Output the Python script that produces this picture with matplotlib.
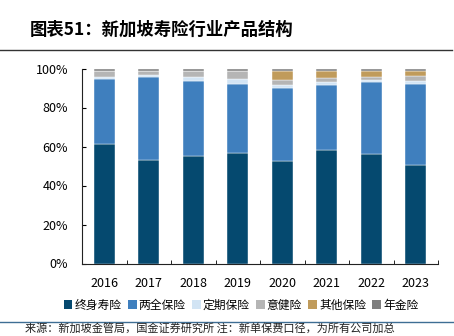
import numpy as np
import matplotlib
matplotlib.use("Agg")
import matplotlib.pyplot as plt
from matplotlib.lines import Line2D
from matplotlib.patches import Patch

plt.rcParams['font.family'] = ['Noto Sans CJK SC', 'DejaVu Sans']

years = ["2016", "2017", "2018", "2019", "2020", "2021", "2022", "2023"]
series_names = ["终身寿险", "两全保险", "定期保险", "意健险", "其他保险", "年金险"]

whole_life = [61.3, 53.1, 55.1, 56.8, 52.6, 58.2, 56.3, 50.7]
endowment = [33.2, 42.4, 38.6, 35.5, 37.4, 33.4, 36.7, 41.6]
term_life = [1.3, 1.0, 1.8, 2.3, 1.4, 1.5, 1.1, 1.1]
accident_health = [2.8, 2.2, 3.1, 4.0, 2.7, 2.0, 1.4, 2.8]
other = [0.3, 0.2, 0.3, 0.3, 4.8, 3.8, 3.4, 2.7]
annuity = [1.1, 1.1, 1.1, 1.1, 1.1, 1.1, 1.1, 1.1]

colors = ["#05496F", "#3F7FBE", "#D2E4F4", "#B5B5B5", "#C09B5B", "#7F7F7F"]

fig = plt.figure(figsize=(4.54, 3.36), dpi=100)
ax = fig.add_axes([82/454, 1-263.5/336, 356/454, 195/336])

x = np.arange(len(years))
bottom = np.zeros(len(years))
for name, vals, c in zip(series_names,
                         [whole_life, endowment, term_life, accident_health, other, annuity],
                         colors):
    ax.bar(x, vals, bottom=bottom, width=0.47, color=c, edgecolor="white",
           linewidth=0.3, label=name)
    bottom += np.array(vals)

ax.set_xlim(-0.5, len(years) - 0.5)
ax.set_ylim(0, 100)
ax.set_yticks(np.arange(0, 101, 20))
ax.set_yticklabels([f"{v}%" for v in range(0, 101, 20)], fontsize=9)
ax.set_xticks(x)
ax.set_xticklabels(years, fontsize=9)
ax.set_xticks(np.arange(-0.5, len(years), 1), minor=True)
ax.tick_params(axis="x", which="major", length=0, pad=10)
ax.tick_params(axis="x", which="minor", direction="in", length=3)
ax.tick_params(axis="y", direction="in", length=3, pad=10)
for s in ["top", "right"]:
    ax.spines[s].set_visible(False)
for s in ["left", "bottom"]:
    ax.spines[s].set_color("#222222")

handles = [Patch(facecolor=c, edgecolor="none") for c in colors]
fig.legend(handles, series_names, loc="center", bbox_to_anchor=(241/454, 1-305/336),
           ncol=6, frameon=False, fontsize=8.5, handlelength=0.75, handleheight=0.75,
           handletextpad=0.15, columnspacing=0.55)

fig.text(30/454, 1-30/336, "图表51：新加坡寿险行业产品结构", fontsize=12.5,
         fontweight="bold", style="italic", va="center", ha="left")
fig.add_artist(Line2D([0, 452/454], [1-50/336, 1-50/336], color="#333333", lw=1))
fig.add_artist(Line2D([0, 1], [1-321.5/336, 1-321.5/336], color="#3E6E94", lw=1))
fig.text(25/454, 1-329.5/336, "来源：新加坡金管局，国金证券研究所 注：新单保费口径，为所有公司加总",
         fontsize=8, va="center", ha="left", color="#222222")

fig.savefig("out.png", dpi=100)
